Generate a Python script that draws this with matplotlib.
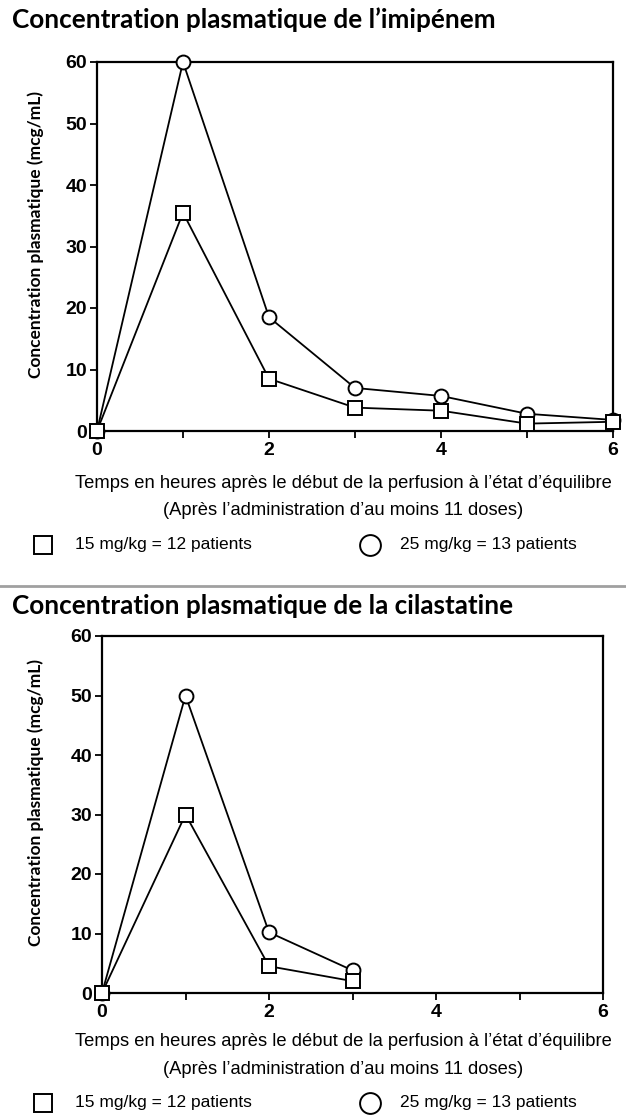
import matplotlib
matplotlib.use("Agg")
import matplotlib.pyplot as plt
from matplotlib.lines import Line2D
from matplotlib.ticker import MultipleLocator

# ---- data ----
hours_imi = [0, 1, 2, 3, 4, 5, 6]
imi_15 = [0, 35.5, 8.5, 3.8, 3.3, 1.2, 1.5]
imi_25 = [0, 60, 18.5, 7.0, 5.7, 2.8, 1.8]

hours_cil = [0, 1, 2, 3]
cil_15 = [0, 30, 4.5, 2.0]
cil_25 = [0, 50, 10.2, 3.8]

title_imi = "Concentration plasmatique de l\u2019imip\u00e9nem"
title_cil = "Concentration plasmatique de la cilastatine"
ylabel = "Concentration plasmatique (mcg/mL)"
xlabel1 = "Temps en heures apr\u00e8s le d\u00e9but de la perfusion \u00e0 l\u2019\u00e9tat d\u2019\u00e9quilibre"
xlabel2 = "(Apr\u00e8s l\u2019administration d\u2019au moins 11 doses)"
leg15 = "15 mg/kg = 12 patients"
leg25 = "25 mg/kg = 13 patients"
yticks = [0, 10, 20, 30, 40, 50, 60]
xticks_major = [0, 2, 4, 6]

W, H = 626, 1118
fig = plt.figure(figsize=(W / 100, H / 100), dpi=100)
fig.patch.set_facecolor("white")

def fx(px):
    return px / W

def fy(py):
    return 1 - py / H

def panel(box, hours, s15, s25, title, title_y, label_y, leg_y, ylab_x):
    l, r, t, b = box
    ax = fig.add_axes([fx(l), fy(b), fx(r - l), (b - t) / H])
    ax.plot(hours, s25, color="black", lw=1.3, marker="o", ms=10,
            mfc="white", mec="black", mew=1.4, clip_on=False, zorder=3)
    ax.plot(hours, s15, color="black", lw=1.3, marker="s", ms=10,
            mfc="white", mec="black", mew=1.4, clip_on=False, zorder=3)
    ax.set_xlim(0, 6)
    ax.set_ylim(0, 60)
    ax.set_yticks(yticks)
    ax.set_xticks(xticks_major)
    ax.xaxis.set_minor_locator(MultipleLocator(1))
    ax.tick_params(axis="both", which="both", direction="out", length=5,
                   width=1.3, labelsize=14, pad=2)
    ax.tick_params(axis="x", which="major", pad=3)
    for lab in ax.get_xticklabels() + ax.get_yticklabels():
        lab.set_fontfamily("Liberation Sans")
        lab.set_fontweight("bold")
    for sp in ax.spines.values():
        sp.set_linewidth(1.6)
    fig.text(fx(12), fy(title_y), title, fontsize=18.8, fontweight="bold",
             family="Lato", ha="left", va="center")
    fig.text(fx(ylab_x), fy((t + b) / 2 - 12), ylabel, rotation=90, fontsize=12.5,
             fontweight="bold", family="Lato", ha="center", va="center")
    cx = (75 + 612) / 2
    fig.text(fx(cx), fy(label_y), xlabel1, fontsize=13.2, family="Liberation Sans",
             ha="center", va="center")
    fig.text(fx(cx), fy(label_y + 28), xlabel2, fontsize=13.2, family="Liberation Sans",
             ha="center", va="center")
    fig.add_artist(Line2D([fx(43)], [fy(leg_y)], marker="s", ms=13, mfc="white",
                          mec="black", mew=1.4, ls="none"))
    fig.text(fx(75), fy(leg_y), leg15, fontsize=12.5, family="Liberation Sans",
             ha="left", va="center")
    fig.add_artist(Line2D([fx(370)], [fy(leg_y)], marker="o", ms=15, mfc="white",
                          mec="black", mew=1.4, ls="none"))
    fig.text(fx(400), fy(leg_y), leg25, fontsize=12.5, family="Liberation Sans",
             ha="left", va="center")
    return ax

panel((97, 613, 62, 431), hours_imi, imi_15, imi_25, title_imi, 20, 483, 545, 36)
panel((102, 603, 636, 993), hours_cil, cil_15, cil_25, title_cil, 606, 1042, 1103, 36)

fig.add_artist(Line2D([0.0, 1.0], [fy(586), fy(586)], color="#a0a0a0", lw=2))

fig.savefig("out.png", dpi=100, facecolor="white")
